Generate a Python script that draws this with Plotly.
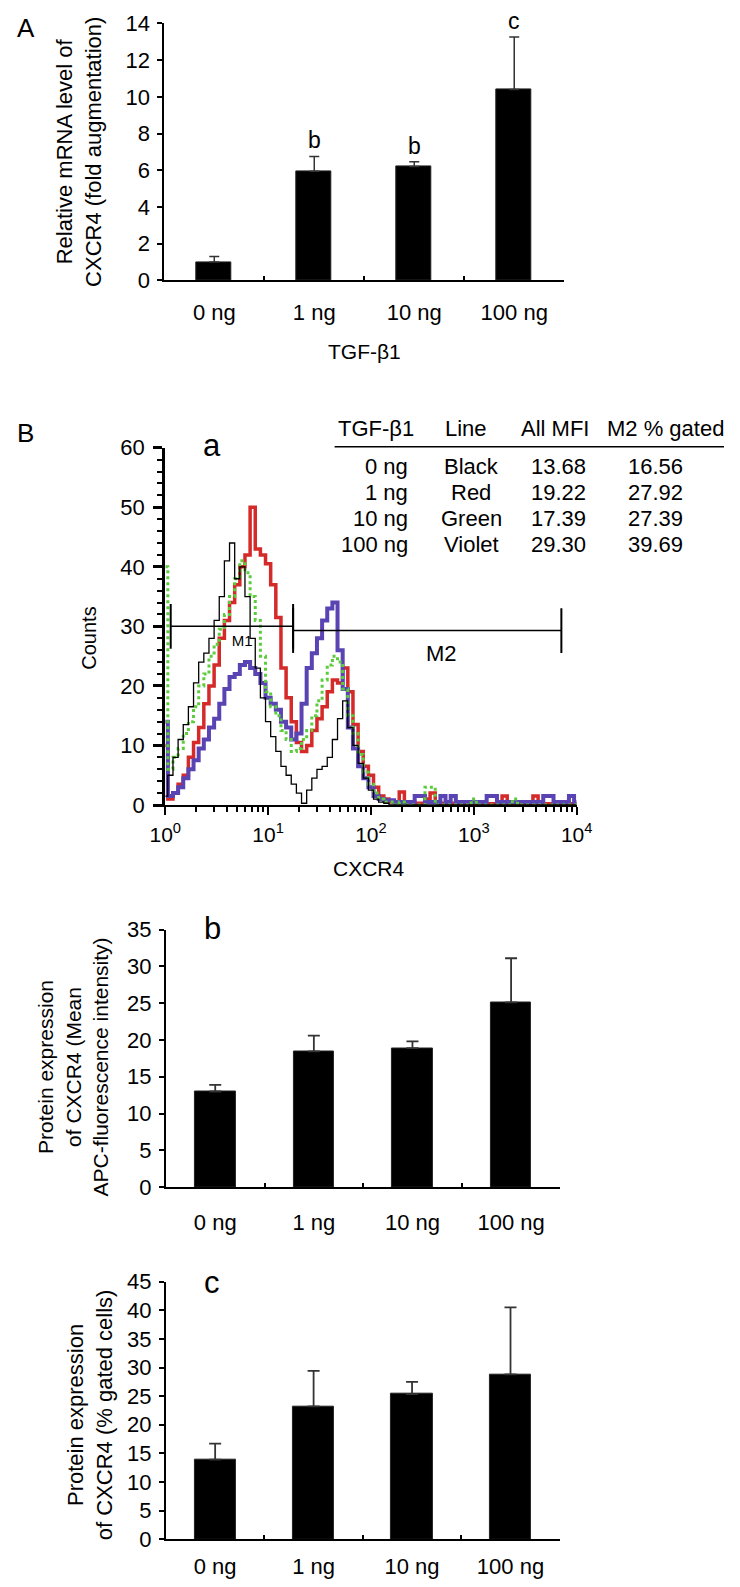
import math
import plotly.graph_objects as go

# ---------------- data ----------------
DOSES = ["0 ng", "1 ng", "10 ng", "100 ng"]

MRNA_FOLD = [1.0, 5.95, 6.2, 10.4]
MRNA_ERR = [0.3, 0.8, 0.27, 2.86]
MRNA_SIG = ["", "b", "b", "c"]

MFI_MEAN = [13.0, 18.45, 18.9, 25.1]
MFI_ERR = [0.9, 2.15, 0.9, 6.0]

GATED_MEAN = [13.9, 23.2, 25.35, 28.8]
GATED_ERR = [2.8, 6.2, 2.15, 11.7]

# histogram channels (log10 of CXCR4 fluorescence)
HIST_LOG_CHANNEL = [
    0.00, 0.05, 0.10, 0.15, 0.20, 0.25, 0.30, 0.35, 0.40, 0.45,
    0.50, 0.55, 0.60, 0.65, 0.70, 0.75, 0.80, 0.85, 0.90, 0.95,
    1.00, 1.05, 1.10, 1.15, 1.20, 1.25, 1.30, 1.35, 1.40, 1.45,
    1.50, 1.55, 1.60, 1.65, 1.70, 1.75, 1.80, 1.85, 1.90, 1.95,
    2.00, 2.05, 2.10, 2.15, 2.20, 2.25, 2.30, 2.35, 2.40, 2.45,
    2.50, 2.55, 2.60, 2.65, 2.70, 2.75, 2.80, 2.85, 2.90, 2.95,
    3.00, 3.05, 3.10, 3.15, 3.20, 3.25, 3.30, 3.35, 3.40, 3.45,
    3.50, 3.55, 3.60, 3.65, 3.70, 3.75, 3.80, 3.85, 3.90, 3.95,
    4.00,
]
HIST_BLACK = [
    1.5, 5, 8, 11, 13.5, 16.5, 20.5, 24, 25.5, 28,
    31, 35, 41, 44, 38, 40, 35, 28, 23, 18,
    14, 11.5, 9, 6.5, 5, 3.5, 2, 0.3, 2.5, 4.5,
    6, 6.5, 8, 11, 14.5, 17.5, 13, 10, 7, 4.5,
    2.5, 1, 0.5, 0.3, 0, 0, 0, 0, 0, 0,
    0, 0, 0, 0, 0, 0, 0, 0, 0, 0,
    0, 0, 0, 0, 0, 0, 0, 0, 0, 0,
    0, 0, 0, 0, 0, 0, 0, 0, 0, 0,
    0,
]
HIST_RED = [
    10, 1, 2, 3.5, 5, 8, 10.5, 13, 17, 20,
    23.5, 28, 31, 34, 37, 40, 42, 50, 43, 42,
    40.5, 37, 31.5, 23, 18, 14, 10.5, 9, 10, 12.5,
    14.5, 16.5, 19, 21, 20.5, 23, 19, 13.5, 9, 6.5,
    5, 3, 1.5, 1, 0.5, 0.5, 2.2, 0.5, 0.5, 0.3,
    0.3, 1.0, 2.0, 0.5, 0.3, 0.3, 0.3, 0.2, 0.2, 0.2,
    0.2, 0.2, 0.2, 0.2, 0.2, 0.2, 1.5, 0.2, 0.2, 0.2,
    0.2, 0.2, 1.5, 0.2, 0.2, 0.2, 0.2, 0.2, 0.2, 0.2,
    0.2,
]
HIST_GREEN = [
    40, 6, 8, 9.5, 12, 14, 16.5, 20, 22, 25,
    27, 29.5, 32, 35, 38, 41, 39, 35, 31, 25,
    19, 16.5, 15, 12.5, 11, 9, 9.5, 11, 12.5, 15,
    17.5, 21, 23.5, 25, 24, 19.5, 15, 12, 8.5, 5.5,
    3.5, 2, 1, 0.5, 0.5, 0, 0.5, 0, 0, 0,
    0, 3.0, 3.0, 0, 0, 0, 0, 0, 0, 0,
    1.0, 0, 0, 0, 0, 0, 0, 0, 1.0, 0,
    0, 0, 0, 0, 0, 0, 0, 0, 0, 0,
    0,
]
HIST_VIOLET = [
    14, 1.5, 2, 3, 4.5, 6, 7.5, 9.5, 11, 13,
    14.5, 17, 19.5, 21.5, 22, 23.5, 24, 23, 22, 20.5,
    18, 17, 16, 14, 13, 11, 12, 17, 23, 25.5,
    28, 31, 33, 34, 26, 19.5, 13, 9.5, 6.5, 4.5,
    3, 1.5, 1, 0.8, 0.8, 0.5, 0.5, 0.5, 0.5, 1.5,
    1.5, 0.5, 0.5, 0.5, 1.5, 0.5, 1.5, 0.5, 0.5, 0.5,
    0.5, 0.5, 0.5, 1.5, 1.5, 0.5, 0.5, 0.5, 0.5, 0.5,
    0.5, 0.5, 0.5, 0.5, 1.5, 1.5, 0.5, 0.5, 0.5, 1.5,
    0.5,
]

M1_GATE = [1.13, 17.5]
M1_LEVEL = 30.0
M2_GATE = [17.5, 7100]
M2_LEVEL = 29.3

TABLE_HEADER = ["TGF-β1", "Line", "All MFI", "M2 % gated"]
TABLE_DOSE = ["0 ng", "1 ng", "10 ng", "100 ng"]
TABLE_LINE = ["Black", "Red", "Green", "Violet"]
TABLE_MFI = ["13.68", "19.22", "17.39", "29.30"]
TABLE_GATED = ["16.56", "27.92", "27.39", "39.69"]

# ---------------- layout helpers ----------------
W, H = 740, 1587
FONT = "Liberation Sans, Arial, sans-serif"


def fx(p):
    return p / W


def fy(p):
    return 1 - p / H


fig = go.Figure()

# ---- Panel A ----
fig.add_trace(go.Bar(
    x=DOSES, y=MRNA_FOLD, width=0.35,
    marker=dict(color="black", line=dict(color="#222", width=1)),
    error_y=dict(type="data", symmetric=False, array=MRNA_ERR,
                 arrayminus=[0] * len(MRNA_ERR), color="#333",
                 thickness=1.5, width=5),
    xaxis="x", yaxis="y",
))

# ---- Panel B(a): histograms ----
hist_x = [10 ** v for v in HIST_LOG_CHANNEL]
fig.add_trace(go.Scatter(
    x=[5.6], y=[27.4], mode="text", text=["M1"],
    textfont=dict(size=15, color="black", family=FONT),
    xaxis="x2", yaxis="y2",
))
fig.add_trace(go.Scatter(x=hist_x, y=HIST_RED, mode="lines",
                         line=dict(shape="hvh", color="#d42a2a", width=3.5),
                         xaxis="x2", yaxis="y2"))
fig.add_trace(go.Scatter(x=hist_x, y=HIST_VIOLET, mode="lines",
                         line=dict(shape="hvh", color="#5a44b4", width=4),
                         xaxis="x2", yaxis="y2"))
fig.add_trace(go.Scatter(x=hist_x, y=HIST_GREEN, mode="lines",
                         line=dict(shape="hvh", color="#5ccc3c", width=3, dash="dot"),
                         xaxis="x2", yaxis="y2"))
fig.add_trace(go.Scatter(x=hist_x, y=HIST_BLACK, mode="lines",
                         line=dict(shape="hvh", color="black", width=1.3),
                         xaxis="x2", yaxis="y2"))
# gates
for rng, lvl in ((M1_GATE, M1_LEVEL), (M2_GATE, M2_LEVEL)):
    fig.add_trace(go.Scatter(
        x=rng, y=[lvl, lvl], mode="lines+markers",
        line=dict(color="black", width=1.5),
        marker=dict(symbol="line-ns", size=32, color="black",
                    line=dict(color="black", width=2)),
        xaxis="x2", yaxis="y2",
    ))

# ---- Panel b ----
fig.add_trace(go.Bar(
    x=DOSES, y=MFI_MEAN, width=0.41,
    marker=dict(color="black", line=dict(color="#222", width=1)),
    error_y=dict(type="data", symmetric=False, array=MFI_ERR,
                 arrayminus=[0] * len(MFI_ERR), color="#333",
                 thickness=1.8, width=6),
    xaxis="x3", yaxis="y3",
))

# ---- Panel c ----
fig.add_trace(go.Bar(
    x=DOSES, y=GATED_MEAN, width=0.42,
    marker=dict(color="black", line=dict(color="#222", width=1)),
    error_y=dict(type="data", symmetric=False, array=GATED_ERR,
                 arrayminus=[0] * len(GATED_ERR), color="#333",
                 thickness=1.8, width=6),
    xaxis="x4", yaxis="y4",
))

tickfont = dict(size=22, color="black", family=FONT)


def cat_x(dom, anchor, standoff):
    return dict(domain=dom, anchor=anchor, type="category", range=[-0.5, 3.5],
                showline=True, linecolor="black", linewidth=2,
                ticks="inside", tickson="boundaries", ticklen=4, tickwidth=2,
                tickcolor="black", ticklabelstandoff=standoff,
                tickfont=dict(size=22, color="black", family=FONT),
                showgrid=False, zeroline=False, fixedrange=True)


def bar_y(dom, anchor, top, dtick):
    return dict(domain=dom, anchor=anchor, range=[0, top], dtick=dtick,
                showline=True, linecolor="black", linewidth=2,
                ticks="outside", ticklen=5, tickwidth=1.5, tickcolor="black",
                tickfont=tickfont, ticklabelstandoff=3,
                showgrid=False, zeroline=False, fixedrange=True)


minor_log = [m * 10 ** d for d in range(4) for m in range(2, 10)]

fig.update_layout(
    width=W, height=H,
    margin=dict(l=0, r=0, t=0, b=0),
    paper_bgcolor="white", plot_bgcolor="white",
    showlegend=False,
    font=dict(family=FONT, color="black"),
    bargap=0,
    xaxis=cat_x([fx(155), fx(573)], "y", 11),
    yaxis=bar_y([fy(272.7), fy(11.6)], "x", 14, 2),
    xaxis2=dict(domain=[fx(156), fx(586)], anchor="y2", type="log", range=[0, 4],
                showline=True, linecolor="black", linewidth=2,
                ticks="outside", ticklen=8, tickwidth=2, tickcolor="black",
                tickvals=[1, 10, 100, 1000, 10000],
                ticktext=["10<sup>0</sup>", "10<sup>1</sup>", "10<sup>2</sup>",
                          "10<sup>3</sup>", "10<sup>4</sup>"],
                tickfont=dict(size=21, color="black", family=FONT), ticklabelstandoff=2,
                minor=dict(tickvals=minor_log, ticks="outside", ticklen=5,
                           tickwidth=1.5, tickcolor="black"),
                showgrid=False, zeroline=False, fixedrange=True),
    yaxis2=dict(domain=[fy(805.7), fy(442.7)], anchor="x2", range=[0, 60], dtick=10,
                showline=True, linecolor="black", linewidth=3,
                ticks="outside", ticklen=9, tickwidth=2.5, tickcolor="black",
                tickfont=tickfont, ticklabelstandoff=4,
                minor=dict(dtick=2, tick0=0, ticks="outside", ticklen=5,
                           tickwidth=2, tickcolor="black"),
                showgrid=False, zeroline=False, fixedrange=True),
    xaxis3=cat_x([fx(156.7), fx(569)], "y3", 14),
    yaxis3=bar_y([fy(1194), fy(932.2)], "x3", 35, 5),
    xaxis4=cat_x([fx(156.7), fx(568.3)], "y4", 6),
    yaxis4=bar_y([fy(1551.7), fy(1290)], "x4", 45, 5),
)

ann = []


def txt(x, y, s, size=20, xanchor="center", angle=0, yanchor="middle"):
    ann.append(dict(x=fx(x), y=fy(y), xref="paper", yref="paper", text=s,
                    showarrow=False, xanchor=xanchor, yanchor=yanchor,
                    textangle=angle,
                    font=dict(size=size, color="black", family=FONT)))


# significance letters in panel A
for d, v, e, s in zip(DOSES, MRNA_FOLD, MRNA_ERR, MRNA_SIG):
    if s:
        ann.append(dict(x=d, y=v + e, xref="x", yref="y", text=s, showarrow=False,
                        yanchor="bottom", yshift=1,
                        font=dict(size=23, color="black", family=FONT)))

# M2 label on histogram (log axis -> annotation x in log units)
ann.append(dict(x=math.log10(489), y=25.5, xref="x2", yref="y2", text="M2",
                showarrow=False, font=dict(size=22, color="black", family=FONT)))

# panel letters
txt(10, 16, "A", 26)
txt(10, 428, "B", 26)
txt(205, 440, "a", 31)
txt(205, 931, "b", 31)
txt(205, 1291, "c", 31)

# axis titles
txt(66, 142, "Relative mRNA level of<br>CXCR4 (fold augmentation)", 22, angle=-90)
txt(364, 345, "TGF-β1", 21)
txt(76, 636, "Counts", 20, angle=-90)
txt(369, 870, "CXCR4", 21)
txt(60, 1072, "Protein expression<br>of CXCR4 (Mean<br>APC-fluorescence intensity)", 21, angle=-90)
txt(77, 1425, "Protein expression<br>of CXCR4 (% gated cells)", 22, angle=-90)

# table in panel B(a)
header_x = [376, 470, 563, 679]
for hx, h in zip(header_x, TABLE_HEADER):
    txt(hx, 423, h, 22)
row_y = [461.7, 488.3, 514.3, 540.7]
for ry, dose, line, mfi, gated in zip(row_y, TABLE_DOSE, TABLE_LINE, TABLE_MFI, TABLE_GATED):
    txt(412, ry, dose, 22, xanchor="right")
    txt(476, ry, line, 22)
    txt(567, ry, mfi, 22)
    txt(668, ry, gated, 22)

fig.update_layout(annotations=ann)
fig.add_shape(type="line", xref="paper", yref="paper",
              x0=fx(333), x1=fx(740), y0=fy(441.7), y1=fy(441.7),
              line=dict(color="black", width=1.5))

fig.write_html("out.html", config={"displayModeBar": False},
               post_script="document.body.style.margin='0px';"
                           "document.body.style.overflow='hidden';")
